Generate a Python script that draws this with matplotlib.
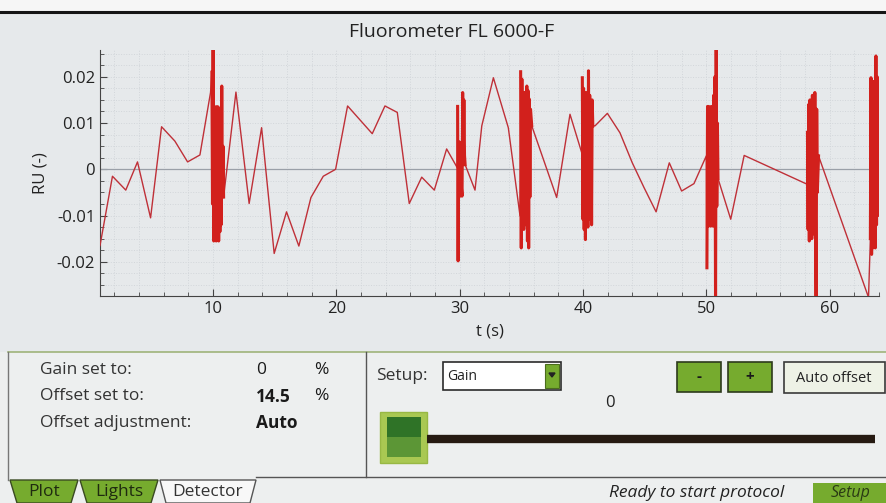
import numpy as np
import matplotlib.pyplot as plt
from matplotlib.patches import Rectangle, Polygon
from matplotlib.ticker import MultipleLocator

plt.rcParams["font.family"] = ["Open Sans", "DejaVu Sans"]

# slow segments between the bursts (t in s, RU)
t_a = [0.85, 1.86, 2.94, 3.89, 4.95, 5.84, 6.92, 7.95, 8.95, 9.81]
ru_a = [-0.0165, -0.0015, -0.0045, 0.0016, -0.0105, 0.0092, 0.0061, 0.0016, 0.0031, 0.0166]

t_b = [11.87, 12.94, 13.95, 14.97, 15.97, 16.97, 17.95, 18.95, 19.95, 20.92,
       22.92, 23.95, 24.95, 25.92, 26.93, 27.95, 28.95, 29.8]
ru_b = [0.0167, -0.0074, 0.009, -0.0182, -0.0092, -0.0166, -0.0061, -0.0015, 0.0, 0.0137,
        0.0077, 0.0137, 0.0123, -0.0074, -0.0017, -0.0045, 0.0044, 0.0004]

t_c = [31.25, 31.8, 32.74, 33.95, 34.9]
ru_c = [-0.0045, 0.0094, 0.0198, 0.009, -0.0101]

t_d = [37.87, 38.95, 39.9]
ru_d = [-0.0061, 0.0119, 0.0036]

t_e = [40.98, 41.98, 43.0, 44.0, 44.96, 45.93, 47.0, 48.0, 49.0, 50.0]
ru_e = [0.0094, 0.0121, 0.0079, 0.0014, -0.004, -0.0092, 0.0014, -0.0047, -0.0031, 0.0029]

t_f = [51.98, 53.07, 58.15]
ru_f = [-0.0108, 0.003, -0.0032]

t_g = [63.15]
ru_g = [-0.0277]

# fast bursts
t_burst1 = [9.92, 9.97, 10.02, 10.07, 10.12, 10.17, 10.22, 10.27, 10.32, 10.37,
            10.42, 10.47, 10.52, 10.57, 10.62, 10.67, 10.72, 10.77, 10.82, 10.87]
ru_burst1 = [0.021, -0.0075, 0.026, -0.0155, 0.012, -0.0075, 0.0135, -0.0155, 0.0135, -0.009,
             0.0135, -0.0155, 0.011, -0.0135, 0.010, -0.012, 0.018, -0.006, 0.005, -0.006]

t_burst2 = [29.84, 29.88, 29.92, 29.96, 30.0, 30.05, 30.1, 30.15, 30.2, 30.25,
            30.3, 30.35, 30.4, 30.45]
ru_burst2 = [0.0136, -0.0198, 0.0059, -0.0058, 0.0059, -0.0058, 0.0, -0.004, -0.0058, 0.0166,
             0.0022, 0.015, 0.003, 0.001]

t_burst3 = [34.95, 35.0, 35.05, 35.1, 35.15, 35.2, 35.25, 35.3, 35.35, 35.4,
            35.45, 35.5, 35.55, 35.6, 35.65, 35.7, 35.75, 35.85]
ru_burst3 = [0.0211, -0.017, 0.0195, -0.010, 0.0166, -0.013, 0.0166, -0.009, 0.015, -0.012,
             0.018, -0.0155, 0.017, -0.017, 0.0152, -0.006, 0.013, 0.0094]

t_burst4 = [39.95, 40.0, 40.05, 40.1, 40.15, 40.2, 40.25, 40.3, 40.35, 40.4,
            40.45, 40.5, 40.55, 40.6, 40.65, 40.7, 40.75, 40.8]
ru_burst4 = [0.0198, -0.0108, 0.0175, -0.013, 0.015, -0.0152, 0.0166, -0.011, 0.015, -0.0125,
             0.0213, -0.0108, 0.016, -0.010, 0.014, -0.012, 0.015, 0.0094]

t_burst5 = [50.05, 50.1, 50.15, 50.2, 50.25, 50.3, 50.35, 50.4, 50.45, 50.5,
            50.55, 50.6, 50.65, 50.7, 50.75, 50.8, 50.85, 50.9, 50.95]
ru_burst5 = [-0.0213, 0.0136, -0.0123, 0.0136, -0.010, 0.012, -0.0123, 0.0136, -0.011, 0.013,
             -0.0123, 0.016, -0.009, 0.020, -0.030, 0.026, -0.008, 0.010, -0.002]

t_burst6 = [58.2, 58.25, 58.3, 58.35, 58.4, 58.45, 58.5, 58.55, 58.6, 58.65,
            58.7, 58.75, 58.8, 58.85, 58.9, 58.95, 59.0, 59.1]
ru_burst6 = [0.008, -0.013, 0.014, -0.0155, 0.015, -0.011, 0.013, -0.015, 0.016, -0.012,
             0.012, -0.014, 0.0166, -0.010, -0.030, 0.013, -0.005, 0.0029]

t_burst7 = [63.3, 63.35, 63.4, 63.45, 63.5, 63.55, 63.6, 63.65, 63.7, 63.75,
            63.8, 63.85, 63.9, 63.95, 64.0, 64.1]
ru_burst7 = [-0.015, 0.0198, -0.0184, 0.018, -0.017, 0.019, -0.014, 0.016, -0.017, 0.0245,
             -0.012, 0.020, -0.010, 0.015, -0.005, 0.010]

bursts = [(t_burst1, ru_burst1), (t_burst2, ru_burst2), (t_burst3, ru_burst3),
          (t_burst4, ru_burst4), (t_burst5, ru_burst5), (t_burst6, ru_burst6),
          (t_burst7, ru_burst7)]

t = (t_a + t_burst1 + t_b + t_burst2 + t_c + t_burst3 + t_d + t_burst4
     + t_e + t_burst5 + t_f + t_burst6 + t_g + t_burst7)
ru = (ru_a + ru_burst1 + ru_b + ru_burst2 + ru_c + ru_burst3 + ru_d + ru_burst4
      + ru_e + ru_burst5 + ru_f + ru_burst6 + ru_g + ru_burst7)

W, H = 887, 503
BG = "#e6e9eb"
PANEL = "#edefef"
GREEN = "#76ab2e"
DARK = "#2b2b2b"

fig = plt.figure(figsize=(W / 100, H / 100), dpi=100, facecolor=BG)

# overlay in pixel coords for the instrument UI
ui = fig.add_axes([0, 0, 1, 1], zorder=0)
ui.set_xlim(0, W)
ui.set_ylim(H, 0)
ui.axis("off")

ui.add_patch(Rectangle((0, 0), W, 12, color="#f6f6f6", lw=0))
ui.plot([0, W], [12, 12], color="#151515", lw=2.2)
ui.add_patch(Rectangle((0, 352), W, 151, color=PANEL, lw=0))
ui.plot([8, W], [352, 352], color="#9fb47a", lw=1.2)
ui.plot([8, 8], [352, 480], color="#777777", lw=1)
ui.plot([366, 366], [352, 477], color="#555555", lw=1)
ui.plot([256, W], [477, 477], color="#555555", lw=1)

ui.text(452, 32, "Fluorometer FL 6000-F", fontsize=14, ha="center", va="center", color="#222222")

# left panel readouts
rows = [("Gain set to:", "0", "%"), ("Offset set to:", "14.5", "%"), ("Offset adjustment:", "Auto", "")]
for i, (lab, val, unit) in enumerate(rows):
    y = 370 + i * 26.5
    ui.text(40, y, lab, fontsize=12.5, va="center", color="#333333")
    ui.text(256, y, val, fontsize=12.5, va="center", color="#1a1a1a",
            fontweight="bold" if i > 0 else "normal")
    if unit:
        ui.text(314, y, unit, fontsize=12.5, va="center", color="#1a1a1a")

# setup controls
ui.text(376, 376, "Setup:", fontsize=12.5, va="center", color="#333333")
ui.add_patch(Rectangle((443, 362), 118, 28, facecolor="white", edgecolor=DARK, lw=1.2))
ui.add_patch(Rectangle((545, 364), 14, 24, facecolor=GREEN, edgecolor="#4b6d1d", lw=0.8))
ui.add_patch(Polygon([[549, 373], [555, 373], [552, 377]], color="#222222"))
ui.text(447, 376, "Gain", fontsize=10, va="center", color="#222222")

for x0, sym in [(677, "-"), (728, "+")]:
    ui.add_patch(Rectangle((x0, 362), 44, 30, facecolor=GREEN, edgecolor="#2d3a1c", lw=1.2))
    ui.text(x0 + 22, 377, sym, fontsize=11, fontweight="bold", ha="center", va="center", color="#1a1a1a")
ui.add_patch(Rectangle((784, 362), 101, 31, facecolor="#eef2e6", edgecolor="#3a3a3a", lw=1.2))
ui.text(834, 378, "Auto offset", fontsize=10.5, ha="center", va="center", color="#222222")

ui.text(610, 403, "0", fontsize=12, ha="center", va="center", color="#222222")

# slider
ui.plot([427, 875], [439, 439], color="#261a12", lw=6, solid_capstyle="butt")
ui.add_patch(Rectangle((380, 412), 47, 51, facecolor="#a9c852", edgecolor="#98b844", lw=1))
ui.add_patch(Rectangle((387, 417), 34, 20, facecolor="#2f7327", lw=0))
ui.add_patch(Rectangle((387, 437), 34, 20, facecolor="#5c9636", lw=0))

# tabs
for x0, x1, lab in [(10, 78, "Plot"), (80, 158, "Lights")]:
    ui.add_patch(Polygon([[x0, 480], [x1, 480], [x1 - 7, 503], [x0 + 7, 503]],
                         facecolor=GREEN, edgecolor="#3a4a22", lw=1))
    ui.text((x0 + x1) / 2, 492, lab, fontsize=12.5, ha="center", va="center", color="#1f2a10")
ui.add_patch(Polygon([[160, 480], [166, 503], [250, 503], [256, 480]],
                     facecolor="#f8f8f8", edgecolor="#555555", lw=1))
ui.text(208, 492, "Detector", fontsize=12.5, ha="center", va="center", color="#333333")

# status bar
ui.text(697, 493, "Ready to start protocol", fontsize=12.5, ha="center", va="center",
        style="italic", color="#222222")
ui.add_patch(Rectangle((813, 483), 74, 20, facecolor=GREEN, lw=0))
ui.text(851, 493, "Setup", fontsize=11.5, ha="center", va="center", style="italic", color="#2a3a14")

# chart
ax = fig.add_axes([100 / W, 1 - 296 / H, 779 / W, 246 / H], zorder=1)
ax.set_facecolor("none")
ax.set_axisbelow(True)
ax.set_xlim(0.85, 64.0)
ax.set_ylim(-0.0274, 0.0258)
ax.axhline(0, color="#9aa0a8", lw=0.9, zorder=2)
ax.plot(t, ru, color="#bf3038", lw=1.0, zorder=3)
for bt, br in bursts:
    ax.plot(bt, br, color="#d2201c", lw=2.2, zorder=4)

ax.xaxis.set_major_locator(MultipleLocator(10))
ax.xaxis.set_minor_locator(MultipleLocator(2))
ax.yaxis.set_major_locator(MultipleLocator(0.01))
ax.yaxis.set_minor_locator(MultipleLocator(0.0025))
ax.yaxis.set_major_formatter(lambda v, p: "0" if abs(v) < 1e-9 else f"{v:.2f}")
ax.grid(which="both", color="#d2d6da", ls=":", lw=0.7)

for side in ("top", "right"):
    ax.spines[side].set_visible(False)
for side in ("left", "bottom"):
    ax.spines[side].set_color("#444444")
ax.tick_params(which="major", direction="in", length=5, color="#444444", labelsize=12, labelcolor="#222222")
ax.tick_params(which="minor", direction="in", length=3, color="#444444")
ax.set_xlabel("t (s)", fontsize=12, color="#222222", labelpad=5)
ax.set_ylabel("RU (-)", fontsize=12, color="#222222", labelpad=6)

fig.savefig("out.png", dpi=100, facecolor=BG)
